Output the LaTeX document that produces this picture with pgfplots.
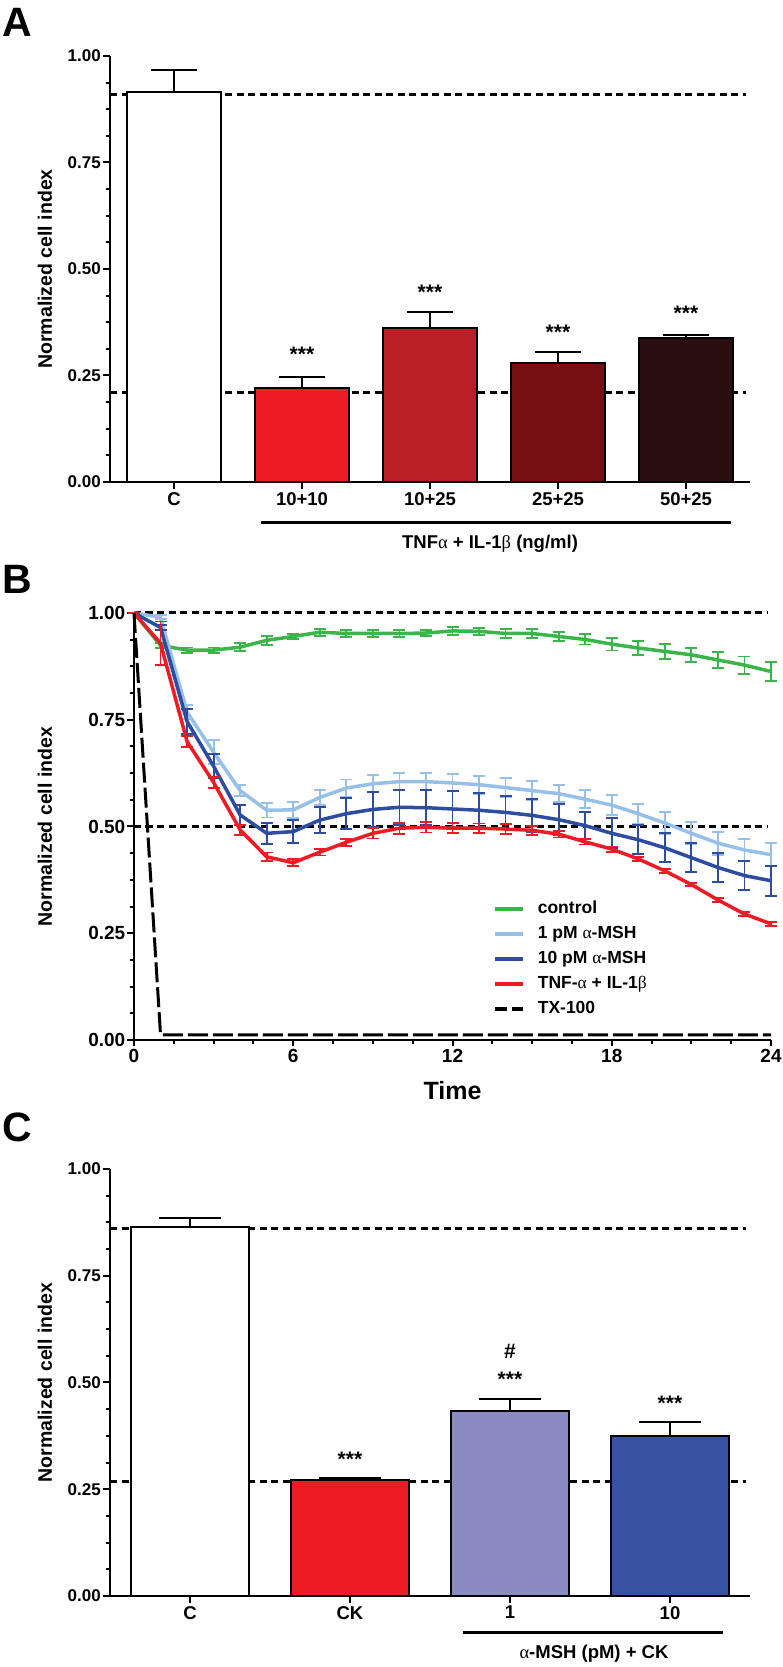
\documentclass[border=0pt]{standalone}
\usepackage{fontspec}
\setmainfont{Liberation Sans}
\newfontfamily\greekfont{Liberation Serif}
\newcommand\al{{\greekfont\mdseries α}}
\newcommand\be{{\greekfont\mdseries β}}
\usepackage{pgfplots}
\pgfplotsset{compat=1.18}
\usepackage{pgfplotstable}

\definecolor{cgreen}{RGB}{57,181,74}
\definecolor{clblue}{RGB}{150,192,232}
\definecolor{cdblue}{RGB}{46,77,161}
\definecolor{cred}{RGB}{237,28,36}
\definecolor{cred2}{RGB}{186,30,38}
\definecolor{cred3}{RGB}{118,15,17}
\definecolor{cred4}{RGB}{43,15,16}
\definecolor{clav}{RGB}{137,139,194}
\definecolor{cblue}{RGB}{57,83,163}

\pgfplotstableread{
t ctrl ectrl lb elb db edb rd erd tx
0 1.000 0.000 1.000 0.000 1.000 0.000 1.000 0.000 1.000
1 0.924 0.006 0.990 0.005 0.966 0.005 0.929 0.051 0.012
2 0.913 0.006 0.768 0.016 0.746 0.030 0.699 0.013 0.012
3 0.913 0.006 0.674 0.028 0.641 0.028 0.603 0.012 0.012
4 0.920 0.009 0.584 0.013 0.527 0.024 0.492 0.012 0.012
5 0.936 0.011 0.538 0.017 0.484 0.025 0.429 0.010 0.012
6 0.945 0.006 0.539 0.019 0.488 0.027 0.415 0.008 0.012
7 0.955 0.008 0.568 0.018 0.515 0.031 0.440 0.008 0.012
8 0.952 0.008 0.590 0.020 0.530 0.036 0.463 0.008 0.012
9 0.952 0.009 0.600 0.020 0.540 0.040 0.484 0.012 0.012
10 0.952 0.008 0.605 0.020 0.545 0.041 0.496 0.013 0.012
11 0.953 0.007 0.605 0.020 0.544 0.041 0.498 0.012 0.012
12 0.958 0.009 0.602 0.020 0.541 0.042 0.496 0.012 0.012
13 0.957 0.008 0.598 0.021 0.538 0.040 0.496 0.011 0.012
14 0.952 0.010 0.591 0.023 0.533 0.038 0.494 0.011 0.012
15 0.952 0.011 0.584 0.022 0.526 0.038 0.491 0.010 0.012
16 0.945 0.010 0.577 0.020 0.516 0.036 0.482 0.008 0.012
17 0.938 0.012 0.564 0.021 0.502 0.032 0.464 0.006 0.012
18 0.927 0.015 0.550 0.023 0.484 0.035 0.447 0.006 0.012
19 0.918 0.016 0.530 0.023 0.469 0.034 0.424 0.005 0.012
20 0.910 0.017 0.508 0.026 0.450 0.034 0.396 0.004 0.012
21 0.902 0.016 0.484 0.026 0.427 0.034 0.364 0.004 0.012
22 0.890 0.019 0.461 0.027 0.404 0.034 0.328 0.004 0.012
23 0.878 0.020 0.445 0.025 0.385 0.034 0.295 0.004 0.012
24 0.863 0.023 0.434 0.027 0.373 0.035 0.272 0.005 0.012
}\dataB

\pgfplotsset{
  panel/.style={
    scale only axis, anchor=south west, clip=false,
    axis x line*=bottom, axis y line*=left,
    axis line style={line width=2pt, black},
    tick align=outside,
    major tick length=7pt, minor tick length=4pt,
    every tick/.style={black, line width=2pt},
    ymin=0, ymax=1, ytick={0,0.25,0.5,0.75,1}, minor y tick num=3,
    yticklabel={\pgfmathprintnumber[fixed,fixed zerofill,precision=2]{\tick}},
    /pgf/number format/assume math mode=true,
    yticklabel style={inner sep=2pt},
    xticklabel style={inner sep=3pt},
    ylabel={Normalized cell index},
    ylabel style={font=\bfseries\fontsize{19.5}{23}\selectfont, anchor=center},
  },
  barA/.style={ybar, bar width=#1, bar shift=0pt, draw=black, line width=2pt},
}
\tikzset{star/.style={anchor=base, font=\bfseries\fontsize{21}{24}\selectfont}}

\begin{document}
\begin{tikzpicture}
\useasboundingbox (0,0) rectangle (782pt,1667pt);

% ---------------- Panel A ----------------
\begin{axis}[panel,
  at={(110pt,1185pt)}, width=640pt, height=426pt,
  xmin=-0.5, xmax=4.5,
  xtick={0,1,2,3,4}, xticklabels={C,10+10,10+25,25+25,50+25},
  xticklabel style={font=\bfseries\fontsize{18.5}{22}\selectfont},
  yticklabel style={font=\bfseries\fontsize{17}{20}\selectfont},
  ylabel style={at={(axis description cs:-0.1016,0.5)}},
]
\addplot[black, line width=3pt, dash pattern=on 7pt off 4.5pt, forget plot] coordinates {(-0.5,0.9105) (4.47,0.9105)};
\addplot[black, line width=3pt, dash pattern=on 7pt off 4.5pt, forget plot] coordinates {(-0.5,0.2107) (4.47,0.2107)};
\addplot[barA=94pt, fill=white, error bars/.cd, y dir=plus, y explicit,
  error bar style={line width=2pt, black},
  error mark options={rotate=90, line width=2pt, mark size=23pt, black}]
  coordinates {(0,0.9156) +- (0,0.051)};
\addplot[barA=94pt, fill=cred, error bars/.cd, y dir=plus, y explicit,
  error bar style={line width=2pt, black},
  error mark options={rotate=90, line width=2pt, mark size=23pt, black}]
  coordinates {(1,0.220) +- (0,0.027)};
\addplot[barA=94pt, fill=cred2, error bars/.cd, y dir=plus, y explicit,
  error bar style={line width=2pt, black},
  error mark options={rotate=90, line width=2pt, mark size=23pt, black}]
  coordinates {(2,0.361) +- (0,0.038)};
\addplot[barA=94pt, fill=cred3, error bars/.cd, y dir=plus, y explicit,
  error bar style={line width=2pt, black},
  error mark options={rotate=90, line width=2pt, mark size=23pt, black}]
  coordinates {(3,0.280) +- (0,0.025)};
\addplot[barA=94pt, fill=cred4, error bars/.cd, y dir=plus, y explicit,
  error bar style={line width=2pt, black},
  error mark options={rotate=90, line width=2pt, mark size=23pt, black}]
  coordinates {(4,0.338) +- (0,0.006)};
\node[star] at (axis cs:1,0.282) {***};
\node[star] at (axis cs:2,0.428) {***};
\node[star] at (axis cs:3,0.3335) {***};
\node[star] at (axis cs:4,0.378) {***};
\end{axis}
\draw[line width=3pt] (261pt,1144pt) -- (731pt,1144pt);
\node[anchor=base, font=\bfseries\fontsize{18.5}{22}\selectfont] at (490pt,1118pt) {TNF\al{} + IL-1\be{} (ng/ml)};
\node[anchor=north west, inner sep=0pt, font=\bfseries\fontsize{41}{46}\selectfont] at (2pt,1659pt) {A};

% ---------------- Panel B ----------------
\begin{axis}[panel,
  at={(134pt,627pt)}, width=637pt, height=427pt,
  xmin=0, xmax=24, xtick={0,6,12,18,24}, minor x tick num=3,
  major tick length=6.5pt,
  tick label style={font=\bfseries\fontsize{19}{22}\selectfont},
  ylabel style={at={(axis description cs:-0.1397,0.5)}},
  xlabel={Time},
  xlabel style={at={(axis description cs:0.5,-0.1194)}, anchor=center, font=\bfseries\fontsize{25}{30}\selectfont},
  legend style={at={(axis cs:13.53,0.3316)}, anchor=north west, draw=none, fill=none,
    inner sep=0pt, column sep=11pt, row sep=4pt,
    font=\bfseries\fontsize{17.5}{20}\selectfont,
    nodes={inner sep=2pt, text height=13pt, text depth=4pt}},
  legend cell align=left,
  legend image code/.code={\draw[#1, line width=3.5pt] (0pt,0pt) -- (28pt,0pt);},
]
\addplot[black, line width=3pt, dash pattern=on 7pt off 4.5pt, forget plot] coordinates {(0,1) (23.9,1)};
\addplot[black, line width=3pt, dash pattern=on 7pt off 4.5pt, forget plot] coordinates {(0,0.5) (23.9,0.5)};
\addplot[cgreen, line width=3.5pt, error bars/.cd, y dir=both, y explicit,
  error bar style={line width=1.8pt, cgreen},
  error mark options={rotate=90, line width=1.8pt, mark size=6pt, cgreen}]
  table[x=t, y=ctrl, y error=ectrl] {\dataB};
\addlegendentry{control}
\addplot[clblue, line width=3.5pt, error bars/.cd, y dir=both, y explicit,
  error bar style={line width=1.8pt, clblue},
  error mark options={rotate=90, line width=1.8pt, mark size=6pt, clblue}]
  table[x=t, y=lb, y error=elb] {\dataB};
\addlegendentry{1 pM \al-MSH}
\addplot[cdblue, line width=3.5pt, error bars/.cd, y dir=both, y explicit,
  error bar style={line width=1.8pt, cdblue},
  error mark options={rotate=90, line width=1.8pt, mark size=6pt, cdblue}]
  table[x=t, y=db, y error=edb] {\dataB};
\addlegendentry{10 pM \al-MSH}
\addplot[cred, line width=3.5pt, error bars/.cd, y dir=both, y explicit,
  error bar style={line width=1.8pt, cred},
  error mark options={rotate=90, line width=1.8pt, mark size=6pt, cred}]
  table[x=t, y=rd, y error=erd] {\dataB};
\addlegendentry{TNF-\al{} + IL-1\be}
\addplot[black, line width=3pt, dash pattern=on 20pt off 5pt,
  legend image post style={dash pattern=on 11.5pt off 5pt}]
  table[x=t, y=tx] {\dataB};
\addlegendentry{TX-100}
\end{axis}
\node[anchor=north west, inner sep=0pt, font=\bfseries\fontsize{41}{46}\selectfont] at (2pt,1102pt) {B};

% ---------------- Panel C ----------------
\begin{axis}[panel,
  at={(110pt,71pt)}, width=640pt, height=427pt,
  xmin=-0.5, xmax=3.5,
  xtick={0,1,2,3}, xticklabels={C,CK,1,10},
  xticklabel style={font=\bfseries\fontsize{18.5}{22}\selectfont},
  yticklabel style={font=\bfseries\fontsize{17}{20}\selectfont},
  ylabel style={at={(axis description cs:-0.1016,0.5)}},
]
\addplot[black, line width=3pt, dash pattern=on 7pt off 4.5pt, forget plot] coordinates {(-0.5,0.860) (3.475,0.860)};
\addplot[black, line width=3pt, dash pattern=on 7pt off 4.5pt, forget plot] coordinates {(-0.5,0.269) (3.475,0.269)};
\addplot[barA=118pt, fill=white, error bars/.cd, y dir=plus, y explicit,
  error bar style={line width=2pt, black},
  error mark options={rotate=90, line width=2pt, mark size=31pt, black}]
  coordinates {(0,0.864) +- (0,0.022)};
\addplot[barA=118pt, fill=cred, error bars/.cd, y dir=plus, y explicit,
  error bar style={line width=2pt, black},
  error mark options={rotate=90, line width=2pt, mark size=31pt, black}]
  coordinates {(1,0.271) +- (0,0.005)};
\addplot[barA=118pt, fill=clav, error bars/.cd, y dir=plus, y explicit,
  error bar style={line width=2pt, black},
  error mark options={rotate=90, line width=2pt, mark size=31pt, black}]
  coordinates {(2,0.434) +- (0,0.028)};
\addplot[barA=118pt, fill=cblue, error bars/.cd, y dir=plus, y explicit,
  error bar style={line width=2pt, black},
  error mark options={rotate=90, line width=2pt, mark size=31pt, black}]
  coordinates {(3,0.3746) +- (0,0.033)};
\node[star] at (axis cs:1,0.303) {***};
\node[star] at (axis cs:2,0.491) {***};
\node[star] at (axis cs:2,0.557) {\#};
\node[star] at (axis cs:3,0.434) {***};
\end{axis}
\draw[line width=3pt] (462.5pt,34pt) -- (722.5pt,34pt);
\node[anchor=base, font=\bfseries\fontsize{18.5}{22}\selectfont] at (594pt,8.5pt) {\al-MSH (pM) + CK};
\node[anchor=north west, inner sep=0pt, font=\bfseries\fontsize{41}{46}\selectfont] at (2pt,554pt) {C};

\end{tikzpicture}
\end{document}
